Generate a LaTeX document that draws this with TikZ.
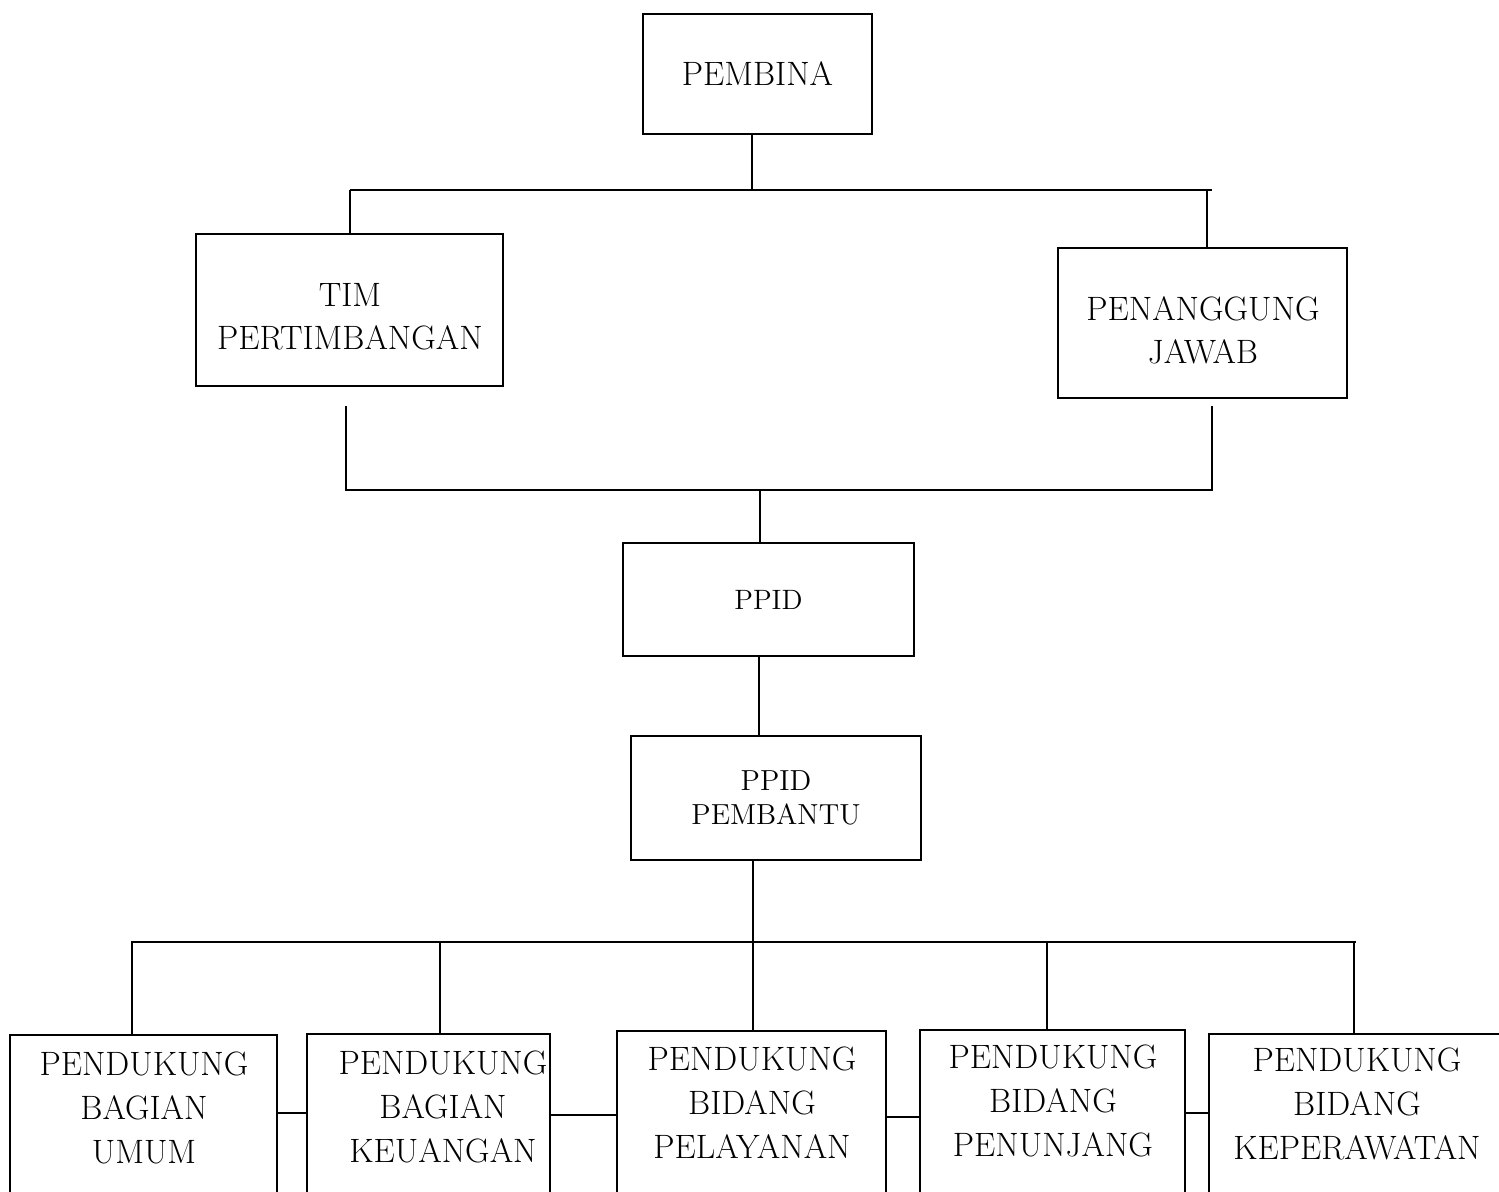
\documentclass[tikz,border=0pt]{standalone}
\begin{document}
\begin{tikzpicture}[x=0.5pt,y=-0.5pt,
  line width=0.8pt,
  orgbox/.style={draw,rectangle,inner sep=0pt,align=center},
  boxtext/.style={align=center,inner sep=0pt,font=\fontsize{16.9pt}{21.5pt}\selectfont},
  bigfont/.style={font=\fontsize{16.9pt}{21.5pt}\selectfont},
  midfont/.style={font=\fontsize{14.5pt}{17pt}\selectfont},
  botbox/.style={draw,rectangle,inner sep=0pt,anchor=north,minimum height=130pt},
  bottext/.style={align=center,font=\fontsize{16.9pt}{22pt}\selectfont,inner sep=0pt}]
\path[use as bounding box] (0,0) rectangle (1499,1191);
\clip (0,0) rectangle (1499,1191);
\fill[white] (0,0) rectangle (1499,1191);

% top level boxes
\node[orgbox,bigfont,minimum width=114.5pt,minimum height=60pt] (pembina) at (757.5,74) {PEMBINA};
\node[orgbox,minimum width=153.5pt,minimum height=76pt] (tim) at (349.5,310) {};
\node[boxtext] (timtext) at (350,316.5) {TIM\\PERTIMBANGAN};
\node[orgbox,minimum width=144.5pt,minimum height=75pt] (pj) at (1202.5,323) {};
\node[boxtext] (pjtext) at (1203,330.5) {PENANGGUNG\\JAWAB};
\node[orgbox,font=\fontsize{14pt}{17pt}\selectfont,minimum width=145.5pt,minimum height=56.5pt] (ppid) at (768.5,599.5) {PPID};
\node[orgbox,midfont,minimum width=145pt,minimum height=62pt] (ppidp) at (776,798) {PPID\\PEMBANTU};

% bottom boxes
\node[botbox,minimum width=133.5pt] (b1) at (143.5,1034) {};
\node[botbox,minimum width=121.5pt] (b2) at (428.5,1033) {};
\node[botbox,minimum width=134.5pt] (b3) at (751.5,1030) {};
\node[botbox,minimum width=132.5pt] (b4) at (1052.5,1029) {};
\node[botbox,minimum width=170pt] (b5) at (1379,1033) {};
\node[bottext] (t1) at (144,1108) {PENDUKUNG\\BAGIAN\\UMUM};
\node[bottext] (t2) at (443,1107) {PENDUKUNG\\BAGIAN\\KEUANGAN};
\node[bottext] (t3) at (752,1103) {PENDUKUNG\\BIDANG\\PELAYANAN};
\node[bottext] (t4) at (1053,1101) {PENDUKUNG\\BIDANG\\PENUNJANG};
\node[bottext] (t5) at (1357,1104) {PENDUKUNG\\BIDANG\\KEPERAWATAN};

% upper bus
\coordinate (ub) at (752,190);
\coordinate (ubL) at (350,190);
\coordinate (ubR) at (1212,190);
\coordinate (ubD) at (1207,190);
\draw (ub |- pembina.south) -- (ub);
\draw (ubL) -- (ubR);
\draw (ubL) -- (ubL |- tim.north);
\draw (ubD) -- (ubD |- pj.north);

% lower bus (lines start below the boxes)
\coordinate (lbL) at (346,490);
\coordinate (lbR) at (1212,490);
\coordinate (lbLs) at (346,406);
\coordinate (lbRs) at (1212,406);
\coordinate (lbM) at (760,490);
\draw (lbLs) -- (lbL) -- (lbR) -- (lbRs);
\draw (lbM) -- (lbM |- ppid.north);

% ppid to ppid pembantu
\coordinate (m3) at (759,600);
\draw (m3 |- ppid.south) -- (m3 |- ppidp.north);

% ppid pembantu to bottom bus
\coordinate (m4) at (753,942);
\draw (m4 |- ppidp.south) -- (m4 |- b3.north);
\coordinate (bbL) at (131,942);
\coordinate (bbR) at (1356,942);
\draw (bbL) -- (bbR);
\coordinate (d1) at (132,942);
\coordinate (d2) at (440,942);
\coordinate (d4) at (1047,942);
\coordinate (d5) at (1354,942);
\draw (d1) -- (d1 |- b1.north);
\draw (d2) -- (d2 |- b2.north);
\draw (d4) -- (d4 |- b4.north);
\draw (d5) -- (d5 |- b5.north);

% side connectors between bottom boxes
\coordinate (h12) at (0,1113);
\coordinate (h23) at (0,1115);
\coordinate (h34) at (0,1117);
\coordinate (h45) at (0,1113);
\draw (b1.east |- h12) -- (b2.west |- h12);
\draw (b2.east |- h23) -- (b3.west |- h23);
\draw (b3.east |- h34) -- (b4.west |- h34);
\draw (b4.east |- h45) -- (b5.west |- h45);
\end{tikzpicture}
\end{document}
